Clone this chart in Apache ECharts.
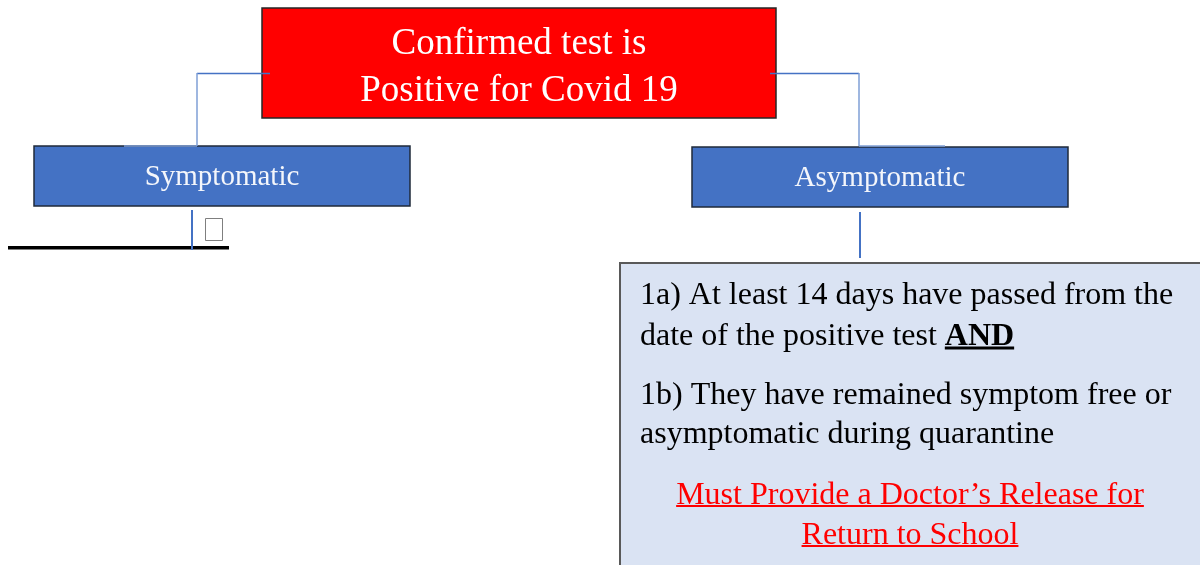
<!DOCTYPE html>
<html><head><meta charset="utf-8">
<script src="https://cdn.jsdelivr.net/npm/echarts@6/dist/echarts.min.js"></script>
<style>html,body{margin:0;padding:0;background:#fff}#c{width:1200px;height:565px}</style>
</head><body><div id="c"></div>
<script>
// ---- content ----
const rootLines = ['Confirmed test is', 'Positive for Covid 19'];
const branchLabels = ['Symptomatic', 'Asymptomatic'];
const criteriaLines = [
  ['1a) At least 14 days have passed from the', ''],
  ['date of the positive test ', 'AND'],
  ['1b) They have remained symptom free or', ''],
  ['asymptomatic during quarantine', '']
];
const noteLines = ['Must Provide a Doctor\u2019s Release for', 'Return to School'];

// ---- layout (positions / styles) ----
const L = {
  root: {x: 262, y: 8, w: 514, h: 110, fill: '#ff0000', base: [53, 100], font: 37},
  branches: [
    {x: 34, y: 146, w: 376, h: 60, cx: 222, base: 184},
    {x: 692, y: 147, w: 376, h: 60, cx: 880, base: 185}
  ],
  crit: {x: 620, y: 263, w: 600, h: 320, tx: 640, base: [303, 344, 403, 442], font: 32},
  note: {cx: 910, base: [503, 543]}
};
const SERIF = '"Liberation Serif", "Times New Roman", serif';
const ASC = 0.73; // baseline offset from top of line box, in em
const cv = document.createElement('canvas').getContext('2d');
function tw(txt, size, weight) { cv.font = (weight || 'normal') + ' ' + size + 'px ' + SERIF; return cv.measureText(txt).width; }
function txt(x, base, t, size, fill, align, weight) {
  return {type: 'text', x, y: base - ASC * size, z: 6,
    style: {text: t, fill, font: (weight ? weight + ' ' : '') + size + 'px ' + SERIF, textAlign: align, textVerticalAlign: 'top', verticalAlign: 'top', lineHeight: size}};
}

const g = [];
const blue = '#4472c4', lightBlue = '#7f9fd6';
function seg(x1, y1, x2, y2, c, w) { g.push({type: 'line', shape: {x1, y1, x2, y2}, style: {stroke: c, lineWidth: w || 1.5}, z: 5}); }
seg(270, 73.5, 197, 73.5, blue); seg(197, 73, 197, 146, lightBlue); seg(124, 146, 197, 146, lightBlue);
seg(770, 73.5, 859, 73.5, blue); seg(859, 73, 859, 146, lightBlue); seg(859, 146, 945, 146, lightBlue);
seg(192, 210, 192, 250, blue, 2); seg(860, 212, 860, 258, blue, 2);

// root box
const R = L.root;
g.push({type: 'rect', shape: {x: R.x, y: R.y, width: R.w, height: R.h}, style: {fill: R.fill, stroke: '#262626', lineWidth: 1.5}, z: 2});
rootLines.forEach((t, i) => g.push(txt(R.x + R.w / 2, R.base[i], t, R.font, '#fff', 'center')));

// branch boxes
branchLabels.forEach((t, i) => {
  const b = L.branches[i];
  g.push({type: 'rect', shape: {x: b.x, y: b.y, width: b.w, height: b.h}, style: {fill: '#4472c4', stroke: '#1f2a3a', lineWidth: 1.5}, z: 2});
  g.push(txt(b.cx, b.base, t, 29, '#f4f6fb', 'center'));
});

// symptomatic stub: tofu glyph + black rule
g.push({type: 'rect', shape: {x: 205.5, y: 218.5, width: 17, height: 22}, style: {fill: '#fff', stroke: '#7f7f7f', lineWidth: 1}, z: 4});
g.push({type: 'rect', shape: {x: 8, y: 246, width: 221, height: 3.5}, style: {fill: '#000'}, z: 3});

// criteria box
const C = L.crit;
g.push({type: 'rect', shape: {x: C.x, y: C.y, width: C.w, height: C.h}, style: {fill: '#dae3f3', stroke: '#595959', lineWidth: 2}, z: 1});
criteriaLines.forEach((pair, i) => {
  const y = C.base[i];
  g.push(txt(C.tx, y, pair[0], C.font, '#000', 'left'));
  if (pair[1]) {
    const x0 = C.tx + tw(pair[0], C.font);
    const w = tw(pair[1], C.font, 'bold');
    g.push(txt(x0, y, pair[1], C.font, '#000', 'left', 'bold'));
    g.push({type: 'rect', shape: {x: x0, y: y + 2.5, width: w, height: 3}, style: {fill: '#000'}, z: 6});
  }
});
noteLines.forEach((t, i) => {
  const y = L.note.base[i];
  const w = tw(t, C.font);
  g.push(txt(L.note.cx, y, t, C.font, '#ff0000', 'center'));
  g.push({type: 'rect', shape: {x: L.note.cx - w / 2, y: y + 2, width: w, height: 2}, style: {fill: '#ff0000'}, z: 6});
});

const chart = echarts.init(document.getElementById('c'), null, {renderer: 'canvas'});
chart.setOption({animation: false, backgroundColor: '#fff', graphic: {elements: g}});
</script></body></html>
